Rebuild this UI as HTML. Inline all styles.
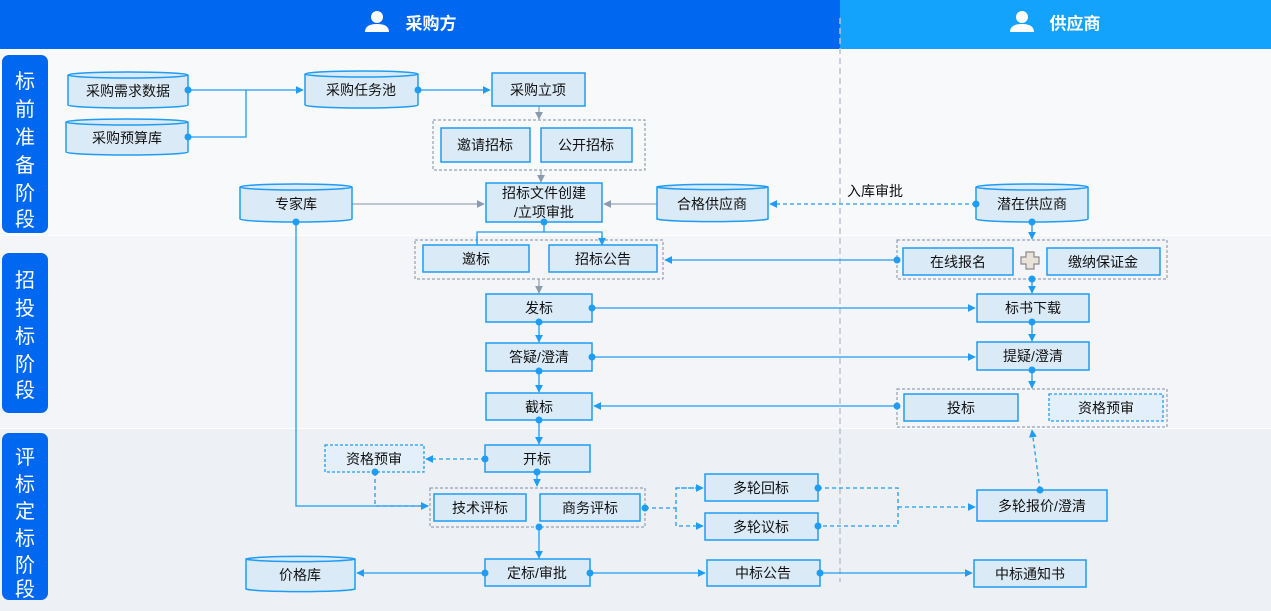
<!DOCTYPE html>
<html><head><meta charset="utf-8"><style>
body{margin:0;background:#fff}
svg{display:block;font-family:"Liberation Sans","Noto Sans CJK SC",sans-serif}
.n{fill:#dbeaf7;stroke:#1f9cf3;stroke-width:1.5}
.d{fill:#e3effa;stroke:#1f9cf3;stroke-width:1.3;stroke-dasharray:3 2}
.g{fill:none;stroke:#7d8ea3;stroke-width:1;stroke-dasharray:3 2}
.t{font-size:14px;fill:#111;text-anchor:middle;dominant-baseline:central}
.l{fill:none;stroke:#1f9cf3;stroke-width:1.3}
.ld{fill:none;stroke:#1f9cf3;stroke-width:1.3;stroke-dasharray:4 3}
.lg{fill:none;stroke:#98a6b6;stroke-width:1.3}
.dot{fill:#1f9cf3}
.side{font-size:20px;fill:#fff;text-anchor:middle}
</style></head><body>
<svg width="1271" height="611" viewBox="0 0 1271 611">
<defs>
<marker id="a" viewBox="0 0 10 10" refX="9" refY="5" markerWidth="8" markerHeight="8" orient="auto" markerUnits="userSpaceOnUse"><path d="M0,0L10,5L0,10z" fill="#1f9cf3"/></marker>
<marker id="ag" viewBox="0 0 10 10" refX="9" refY="5" markerWidth="8" markerHeight="8" orient="auto" markerUnits="userSpaceOnUse"><path d="M0,0L10,5L0,10z" fill="#8a9bb0"/></marker>
</defs>
<rect x="0" y="0" width="1271" height="611" fill="#fff"/>
<rect x="0" y="50" width="1271" height="185" fill="#f7f9fb"/>
<rect x="0" y="236" width="1271" height="192" fill="#f3f5f8"/>
<rect x="0" y="429" width="1271" height="182" fill="#edf1f5"/>
<rect x="0" y="0" width="840" height="49" fill="#0068f0"/>
<rect x="840" y="0" width="431" height="49" fill="#13a2fc"/>
<g fill="#fff"><circle cx="377" cy="17" r="6"/><path d="M365,32q0,-8 12,-8q12,0 12,8z"/>
<circle cx="1022" cy="17" r="6"/><path d="M1010,32q0,-8 12,-8q12,0 12,8z"/></g>
<text x="431" y="24" font-size="17" font-weight="bold" fill="#fff" dominant-baseline="central" text-anchor="middle">采购方</text>
<text x="1075" y="24" font-size="17" font-weight="bold" fill="#fff" dominant-baseline="central" text-anchor="middle">供应商</text>
<line x1="840" y1="18" x2="840" y2="582" stroke="#bcc3cc" stroke-width="1.5" stroke-dasharray="6 4"/>
<rect x="2" y="55" width="46" height="178" rx="7" fill="#0068f0"/>
<rect x="2" y="253" width="46" height="160" rx="7" fill="#0068f0"/>
<rect x="2" y="433" width="46" height="167" rx="7" fill="#0068f0"/>
<g class="side"><text x="25" y="88">标</text><text x="25" y="116">前</text><text x="25" y="144">准</text><text x="25" y="172">备</text><text x="25" y="200">阶</text><text x="25" y="228" dy="-2">段</text>
<text x="25" y="287">招</text><text x="25" y="315">投</text><text x="25" y="343">标</text><text x="25" y="371">阶</text><text x="25" y="399" dy="-2">段</text>
<text x="25" y="464">评</text><text x="25" y="491">标</text><text x="25" y="518">定</text><text x="25" y="545">标</text><text x="25" y="572">阶</text><text x="25" y="598" dy="-2">段</text></g>
<rect class="g" x="433" y="120" width="212" height="50"/>
<rect class="g" x="415" y="240" width="248" height="39"/>
<rect class="g" x="897" y="240" width="270" height="39"/>
<rect class="g" x="897" y="389" width="270" height="38"/>
<rect class="g" x="430" y="488" width="215" height="39"/>
<path class="l" d="M188,90H246V90H303" marker-end="url(#a)"/>
<path class="l" d="M188,137H246V90"/>
<path class="l" d="M418,90H490" marker-end="url(#a)"/>
<path class="lg" d="M539,106V119" marker-end="url(#ag)"/>
<path class="lg" d="M541,170V182" marker-end="url(#ag)"/>
<path class="lg" d="M352,204H484" marker-end="url(#ag)"/>
<path class="lg" d="M657,204H604" marker-end="url(#ag)"/>
<path class="ld" d="M976,204H770" marker-end="url(#a)"/>
<path class="l" d="M544,222V232H477V244M544,222V232H602V244" />
<path class="l" d="M477,236V245M602,236V245" marker-end="url(#a)"/>
<path class="lg" d="M539,279V293" marker-end="url(#ag)"/>
<path class="l" d="M1032,222V239" marker-end="url(#a)"/>
<path class="l" d="M897,260H665" marker-end="url(#a)"/>
<path class="l" d="M1032,279V293" marker-end="url(#a)"/>
<path class="l" d="M592,308H975" marker-end="url(#a)"/>
<path class="l" d="M539,322V342" marker-end="url(#a)"/>
<path class="l" d="M1032,322V341" marker-end="url(#a)"/>
<path class="l" d="M592,357H975" marker-end="url(#a)"/>
<path class="l" d="M539,371V392" marker-end="url(#a)"/>
<path class="l" d="M1032,370V388" marker-end="url(#a)"/>
<path class="l" d="M897,406H594" marker-end="url(#a)"/>
<path class="l" d="M539,420V444" marker-end="url(#a)"/>
<path class="ld" d="M485,459H426" marker-end="url(#a)"/>
<path class="l" d="M537,472V486" marker-end="url(#a)"/>
<path class="ld" d="M375,472V506H428" marker-end="url(#a)"/>
<path class="l" d="M296,222V506H428" marker-end="url(#a)"/>
<path class="ld" d="M645,508H676V488H703M676,508V526H703" marker-end="url(#a)"/>
<path class="ld" d="M676,488H703" marker-end="url(#a)"/>
<path class="ld" d="M818,488H898V526H818M898,507H975" marker-end="url(#a)"/>
<path class="ld" d="M1040,490L1032,430" marker-end="url(#a)"/>
<path class="l" d="M539,527V558" marker-end="url(#a)"/>
<path class="l" d="M485,573H357" marker-end="url(#a)"/>
<path class="l" d="M590,573H705" marker-end="url(#a)"/>
<path class="l" d="M820,573H972" marker-end="url(#a)"/>
<g>
<path class="n" d="M68,75V105A60,3 0 0 0 188,105V75A60,3 0 0 0 68,75Z"/><path class="n" d="M68,75A60,3 0 0 0 188,75" fill="none"/>
<path class="n" d="M66,122V152A61,3 0 0 0 188,152V122A61,3 0 0 0 66,122Z"/><path class="n" d="M66,122A61,3 0 0 0 188,122" fill="none"/>
<path class="n" d="M305,74V105A56,3 0 0 0 418,105V74A56,3 0 0 0 305,74Z"/><path class="n" d="M305,74A56,3 0 0 0 418,74" fill="none"/>
<path class="n" d="M240,187V219A56,3 0 0 0 352,219V187A56,3 0 0 0 240,187Z"/><path class="n" d="M240,187A56,3 0 0 0 352,187" fill="none"/>
<path class="n" d="M657,187V219A56,3 0 0 0 768,219V187A56,3 0 0 0 657,187Z"/><path class="n" d="M657,187A56,3 0 0 0 768,187" fill="none"/>
<path class="n" d="M976,187V219A56,3 0 0 0 1088,219V187A56,3 0 0 0 976,187Z"/><path class="n" d="M976,187A56,3 0 0 0 1088,187" fill="none"/>
<path class="n" d="M246,559V589A55,3 0 0 0 355,589V559A55,3 0 0 0 246,559Z"/><path class="n" d="M246,559A55,3 0 0 0 355,559" fill="none"/>
</g>
<rect class="n" x="492" y="73" width="93" height="33"/>
<rect class="n" x="441" y="128" width="89" height="34"/>
<rect class="n" x="541" y="128" width="91" height="34"/>
<rect class="n" x="486" y="183" width="116" height="39"/>
<rect class="n" x="423" y="245" width="106" height="27"/>
<rect class="n" x="549" y="245" width="108" height="27"/>
<rect class="n" x="903" y="248" width="110" height="27"/>
<rect class="n" x="1047" y="248" width="113" height="27"/>
<rect class="n" x="486" y="294" width="106" height="28"/>
<rect class="n" x="977" y="294" width="112" height="28"/>
<rect class="n" x="486" y="343" width="106" height="28"/>
<rect class="n" x="977" y="342" width="112" height="28"/>
<rect class="n" x="486" y="393" width="106" height="27"/>
<rect class="n" x="904" y="394" width="114" height="27"/>
<rect class="d" x="1049" y="394" width="114" height="27"/>
<rect class="n" x="485" y="445" width="105" height="27"/>
<rect class="d" x="325" y="445" width="99" height="27"/>
<rect class="n" x="434" y="494" width="92" height="27"/>
<rect class="n" x="540" y="494" width="100" height="27"/>
<rect class="n" x="705" y="474" width="113" height="27"/>
<rect class="n" x="705" y="513" width="113" height="27"/>
<rect class="n" x="977" y="490" width="130" height="31"/>
<rect class="n" x="485" y="559" width="105" height="27"/>
<rect class="n" x="707" y="560" width="113" height="26"/>
<rect class="n" x="974" y="560" width="112" height="27"/>
<path d="M1026,252h8v5h5v7h-5v5h-8v-5h-5v-7h5z" fill="#e8e2d8" stroke="#8a8a8a" stroke-width="1.2"/>
<g class="dot">
<circle cx="188" cy="90" r="3.5"/><circle cx="188" cy="137" r="3.5"/><circle cx="418" cy="90" r="3.5"/>
<circle cx="296" cy="222" r="3.5"/><circle cx="976" cy="204" r="3.5"/><circle cx="1032" cy="222" r="3.5"/>
<circle cx="544" cy="222" r="3.5"/><circle cx="897" cy="260" r="3.5"/><circle cx="1032" cy="279" r="3.5"/>
<circle cx="592" cy="308" r="3.5"/><circle cx="539" cy="322" r="3.5"/><circle cx="1032" cy="322" r="3.5"/>
<circle cx="592" cy="357" r="3.5"/><circle cx="539" cy="371" r="3.5"/><circle cx="1032" cy="370" r="3.5"/>
<circle cx="897" cy="406" r="3.5"/><circle cx="539" cy="420" r="3.5"/><circle cx="485" cy="459" r="3.5"/>
<circle cx="537" cy="472" r="3.5"/><circle cx="375" cy="472" r="3.5"/><circle cx="645" cy="508" r="3.5"/>
<circle cx="818" cy="488" r="3.5"/><circle cx="818" cy="526" r="3.5"/><circle cx="1040" cy="490" r="3.5"/>
<circle cx="539" cy="527" r="3.5"/><circle cx="485" cy="573" r="3.5"/><circle cx="590" cy="573" r="3.5"/><circle cx="820" cy="573" r="3.5"/>
</g>
<g class="t">
<text x="128" y="91">采购需求数据</text><text x="127" y="138">采购预算库</text><text x="361" y="90">采购任务池</text>
<text x="538" y="90">采购立项</text><text x="485" y="145">邀请招标</text><text x="586" y="145">公开招标</text>
<text x="544" y="193">招标文件创建</text><text x="544" y="212">/立项审批</text>
<text x="296" y="204">专家库</text><text x="712" y="204">合格供应商</text><text x="1032" y="204">潜在供应商</text>
<text x="476" y="259">邀标</text><text x="603" y="259">招标公告</text><text x="958" y="262">在线报名</text><text x="1103" y="262">缴纳保证金</text>
<text x="539" y="308">发标</text><text x="1033" y="308">标书下载</text>
<text x="539" y="357">答疑/澄清</text><text x="1033" y="356">提疑/澄清</text>
<text x="539" y="407">截标</text><text x="961" y="408">投标</text><text x="1106" y="408">资格预审</text>
<text x="537" y="459">开标</text><text x="374" y="459">资格预审</text>
<text x="480" y="508">技术评标</text><text x="590" y="508">商务评标</text>
<text x="761" y="488">多轮回标</text><text x="761" y="527">多轮议标</text><text x="1042" y="506">多轮报价/澄清</text>
<text x="537" y="573">定标/审批</text><text x="300" y="575">价格库</text><text x="763" y="573">中标公告</text><text x="1030" y="574">中标通知书</text>
<text x="875" y="191">入库审批</text>
</g>
</svg>
</body></html>
